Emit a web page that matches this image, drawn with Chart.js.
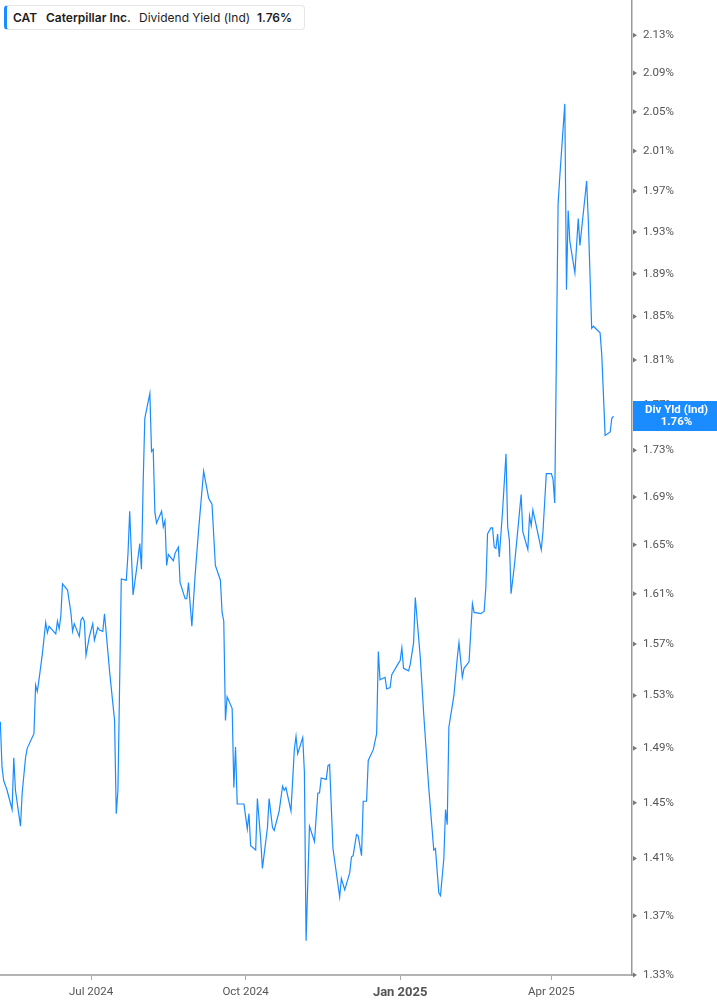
<!DOCTYPE html>
<html>
<head>
<meta charset="utf-8">
<script src="https://cdn.jsdelivr.net/npm/chart.js@4.4.1/dist/chart.umd.min.js"></script>
<style>
  body { margin: 0; background: #fff; }
  #wrap { position: relative; width: 717px; height: 1005px; }
  #hdr { position: absolute; left: 4px; top: 5px; width: 301px; height: 25px; box-sizing: border-box;
         border: 1px solid #e6e6e6; border-left: 3px solid #1a8cff; border-radius: 4px; background: #fff; }
  #hdr span { position: absolute; top: 4px; line-height: 14px; font: 12px Inter, sans-serif; color: #1d1d1d; white-space: nowrap; }
  #hdr .b { font-weight: 600; }
</style>
</head>
<body>
<div id="wrap">
  <canvas id="chart"></canvas>
  <div id="hdr">
    <span class="b" style="left:6px">CAT</span>
    <span class="b" style="left:39px">Caterpillar Inc.</span>
    <span style="left:132px">Dividend Yield (Ind)</span>
    <span class="b" style="left:250px">1.76%</span>
  </div>
</div>
<script>
// trading days, counted in calendar days from 1 Jul 2024
const days = [
  -54, -53, -52, -50, -47, -46, -45, -42, -41, -39, -38, -34, -33, -32, -31, -29, -27, -26, -25, -23,
  -21, -20, -19, -18, -17, -14, -12, -11, -10, -7, -6, -5, -4, -3, -1, 1, 2, 4, 5, 7,
  8, 9, 11, 14, 15, 16, 18, 21, 22, 23, 25, 27, 29, 30, 31, 32, 35, 36, 37, 38,
  39, 42, 43, 44, 45, 46, 49, 50, 52, 53, 56, 57, 58, 60, 62, 64, 67, 70, 72, 74,
  77, 78, 79, 80, 81, 84, 85, 86, 87, 91, 93, 94, 95, 98, 99, 101, 102, 105, 106, 108,
  109, 112, 114, 115, 116, 119, 121, 122, 123, 126, 127, 128, 130, 133, 135, 136, 137, 140, 141, 142,
  144, 148, 149, 151, 154, 155, 156, 158, 159, 161, 162, 164, 165, 168, 170, 171, 172, 175, 176, 178,
  179, 183, 184, 185, 186, 189, 190, 192, 193, 196, 198, 201, 204, 205, 207, 208, 210, 211, 212, 213,
  216, 218, 219, 221, 222, 225, 227, 228, 232, 234, 235, 236, 238, 239, 240, 241, 242, 243, 245, 247,
  248, 249, 250, 252, 254, 256, 257, 260, 261, 262, 263, 265, 268, 269, 271, 274, 275, 276, 278, 279,
  282, 283, 284, 285, 288, 290, 291, 295, 296, 298, 299, 303, 304, 306, 309, 310, 311
];
// dividend yield (ind), percent
const yields = [
  1.510, 1.476, 1.466, 1.459, 1.445, 1.483, 1.459, 1.433, 1.457, 1.483, 1.490, 1.501, 1.538, 1.533, 1.542, 1.562, 1.587, 1.579, 1.584, 1.581,
  1.578, 1.588, 1.582, 1.592, 1.618, 1.613, 1.595, 1.580, 1.586, 1.576, 1.589, 1.591, 1.588, 1.561, 1.576, 1.586, 1.573, 1.583, 1.581, 1.580,
  1.594, 1.579, 1.549, 1.511, 1.442, 1.459, 1.622, 1.621, 1.643, 1.678, 1.609, 1.629, 1.651, 1.630, 1.701, 1.758, 1.780, 1.729, 1.731, 1.677,
  1.668, 1.678, 1.665, 1.670, 1.633, 1.642, 1.637, 1.643, 1.648, 1.619, 1.606, 1.606, 1.619, 1.584, 1.626, 1.662, 1.712, 1.689, 1.684, 1.633,
  1.621, 1.595, 1.588, 1.511, 1.529, 1.520, 1.461, 1.491, 1.449, 1.449, 1.431, 1.442, 1.419, 1.416, 1.453, 1.423, 1.403, 1.432, 1.453, 1.432,
  1.430, 1.444, 1.462, 1.459, 1.461, 1.444, 1.489, 1.499, 1.486, 1.498, 1.472, 1.353, 1.433, 1.422, 1.457, 1.457, 1.468, 1.467, 1.477, 1.478,
  1.417, 1.383, 1.396, 1.388, 1.400, 1.411, 1.412, 1.427, 1.426, 1.412, 1.451, 1.451, 1.481, 1.489, 1.501, 1.564, 1.542, 1.544, 1.535, 1.536,
  1.546, 1.555, 1.557, 1.567, 1.551, 1.549, 1.554, 1.571, 1.607, 1.559, 1.516, 1.461, 1.416, 1.417, 1.386, 1.384, 1.410, 1.445, 1.434, 1.506,
  1.530, 1.559, 1.571, 1.544, 1.551, 1.556, 1.602, 1.595, 1.594, 1.596, 1.615, 1.659, 1.664, 1.664, 1.648, 1.647, 1.659, 1.640, 1.679, 1.727,
  1.665, 1.654, 1.610, 1.633, 1.662, 1.692, 1.661, 1.646, 1.674, 1.666, 1.679, 1.666, 1.646, 1.661, 1.710, 1.710, 1.705, 1.685, 1.957, 1.984,
  2.058, 1.875, 1.951, 1.921, 1.891, 1.943, 1.917, 1.980, 1.941, 1.839, 1.841, 1.835, 1.815, 1.743, 1.746, 1.758, 1.760
];
const yTicks = [1.33, 1.37, 1.41, 1.45, 1.49, 1.53, 1.57, 1.61, 1.65, 1.69, 1.73, 1.77, 1.81, 1.85, 1.89, 1.93, 1.97, 2.01, 2.05, 2.09, 2.13];
const xTickDays = [0, 92, 184, 274];
const xTickLabels = ['Jul 2024', 'Oct 2024', 'Jan 2025', 'Apr 2025'];
const badgeTitle = 'Div Yld (Ind)';
const lastYield = yields[yields.length - 1];

const lineColor = '#1a8cff';

// marks on the value axis and the current value badge
const axisExtras = {
  id: 'axisExtras',
  afterDraw(chart) {
    const { ctx, chartArea } = chart;
    const y = chart.scales.y;
    const r = chartArea.right;
    ctx.save();
    ctx.fillStyle = '#777';
    yTicks.forEach(v => {
      const py = y.getPixelForValue(v);
      ctx.beginPath();
      ctx.moveTo(r + 1, py - 2.5);
      ctx.lineTo(r + 5, py);
      ctx.lineTo(r + 1, py + 2.5);
      ctx.closePath();
      ctx.fill();
    });
    const by = y.getPixelForValue(lastYield);
    ctx.fillStyle = lineColor;
    ctx.fillRect(r + 1, by - 15, chart.width - r, 30);
    ctx.fillStyle = '#fff';
    ctx.font = 'bold 11.5px Roboto';
    ctx.textAlign = 'center';
    ctx.textBaseline = 'middle';
    const cx = (r + chart.width) / 2 + 2;
    ctx.fillText(badgeTitle, cx, by - 6);
    ctx.fillText(lastYield.toFixed(2) + '%', cx, by + 6.5);
    ctx.restore();
  }
};

Chart.defaults.font.family = 'Roboto';

const ctx = document.getElementById('chart').getContext('2d');
new Chart(ctx, {
  type: 'line',
  data: {
    datasets: [{
      label: 'Dividend Yield (Ind)',
      data: days.map((d, i) => ({ x: d, y: yields[i] })),
      borderColor: lineColor,
      borderWidth: 1.2,
      pointRadius: 0,
      tension: 0,
      fill: false
    }]
  },
  options: {
    responsive: true,
    maintainAspectRatio: false,
    animation: false,
    layout: { padding: 0 },
    plugins: { legend: { display: false }, tooltip: { enabled: false } },
    scales: {
      x: {
        type: 'linear',
        min: -54.2,
        max: 322,
        afterBuildTicks: axis => { axis.ticks = xTickDays.map(v => ({ value: v })); },
        afterFit: axis => { axis.height = 30; axis.paddingLeft = 0; axis.paddingRight = 0; },
        ticks: {
          padding: 5,
          color: '#555',
          maxRotation: 0,
          font: c => (c.tick && c.tick.value === 184) ? { size: 13, weight: 'bold' } : { size: 11.5 },
          callback: v => xTickLabels[xTickDays.indexOf(v)]
        },
        grid: { drawOnChartArea: false, drawTicks: true, tickLength: 5, color: '#aaa', tickColor: '#aaa' },
        border: { display: true, color: '#b3b3b3', width: 2 }
      },
      y: {
        type: 'logarithmic',
        position: 'right',
        min: 1.33,
        max: 2.168,
        afterBuildTicks: axis => { axis.ticks = yTicks.map(v => ({ value: v })); },
        afterFit: axis => { axis.width = 85; axis.paddingTop = 0; axis.paddingBottom = 0; },
        ticks: {
          padding: 11,
          color: '#555',
          font: { size: 11.5 },
          callback: v => v.toFixed(2) + '%'
        },
        grid: { drawOnChartArea: false, drawTicks: false },
        border: { display: true, color: '#999', width: 1.5 }
      }
    }
  },
  plugins: [axisExtras]
});
</script>
</body>
</html>
